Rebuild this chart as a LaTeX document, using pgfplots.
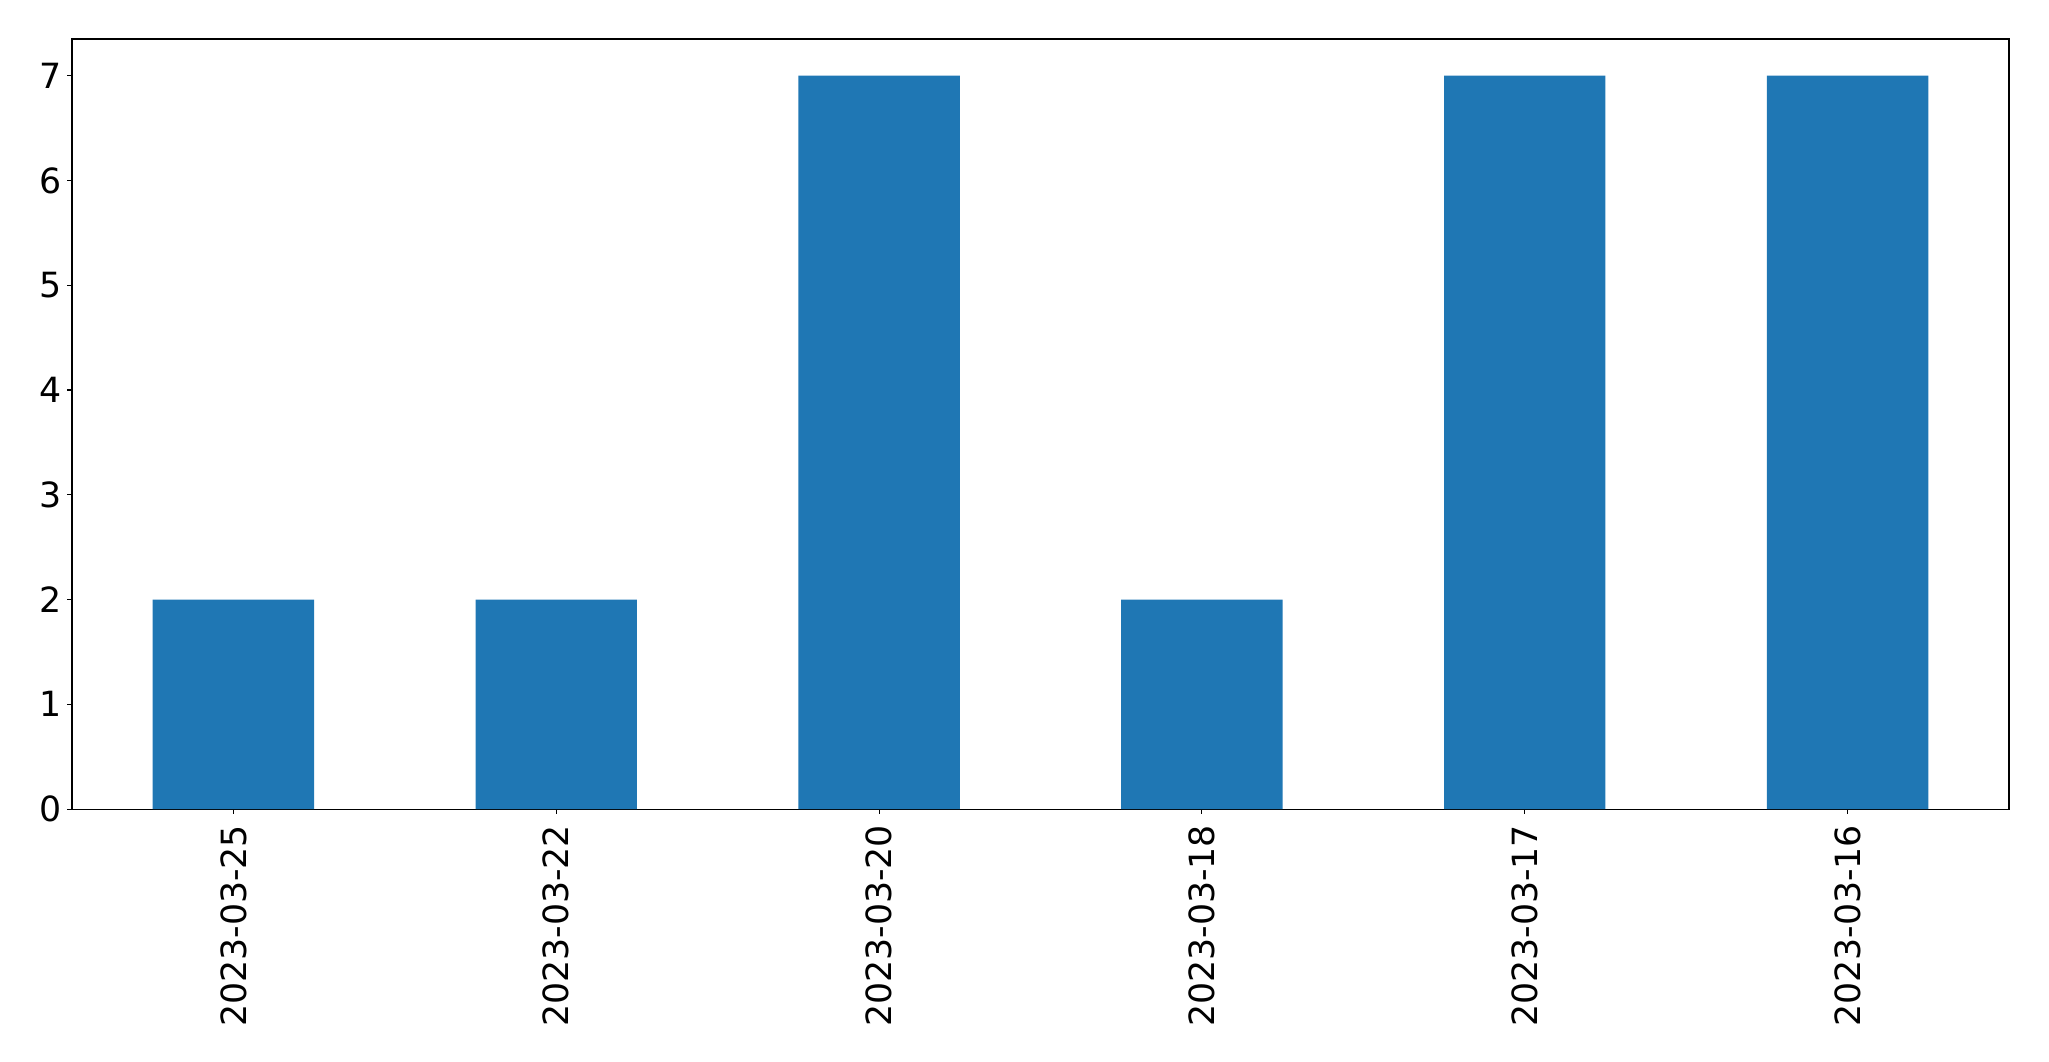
\documentclass[border=0pt]{standalone}
\usepackage{pgfplots}
\pgfplotsset{compat=1.18}
\usepackage{fontspec}
\setmainfont{DejaVu Sans}
\definecolor{mplblue}{RGB}{31,119,180}
\begin{document}
\begin{tikzpicture}
\begin{axis}[
  scale only axis,
  width=1394.6bp, height=554.4bp,
  xmin=-0.5, xmax=5.5, ymin=0, ymax=7.35,
  axis line style={line width=0.8bp, black},
  every tick/.style={line width=0.8bp, black},
  tick align=outside,
  major tick length=3.5bp,
  xtick pos=bottom, ytick pos=left,
  xtick={0,1,2,3,4,5},
  xticklabels={2023-03-25,2023-03-22,2023-03-20,2023-03-18,2023-03-17,2023-03-16},
  ytick={0,1,2,3,4,5,6,7},
  /pgf/number format/assume math mode=true,
  ticklabel style={font=\fontsize{25bp}{30bp}\selectfont},
  xticklabel style={rotate=90, anchor=east, inner sep=0pt},
  yticklabel style={inner sep=0pt, xshift=-3.5bp},
  xticklabel shift=7.8bp,
]
\addplot[ybar, bar width=0.5, fill=mplblue, draw=none] coordinates {
(0,2) (1,2) (2,7) (3,2) (4,7) (5,7)
};
\end{axis}
\path ([shift={(-51.84bp,-181.44bp)}]current axis.south west) rectangle ([shift={(28.8bp,28.08bp)}]current axis.north east);
\end{tikzpicture}
\end{document}
